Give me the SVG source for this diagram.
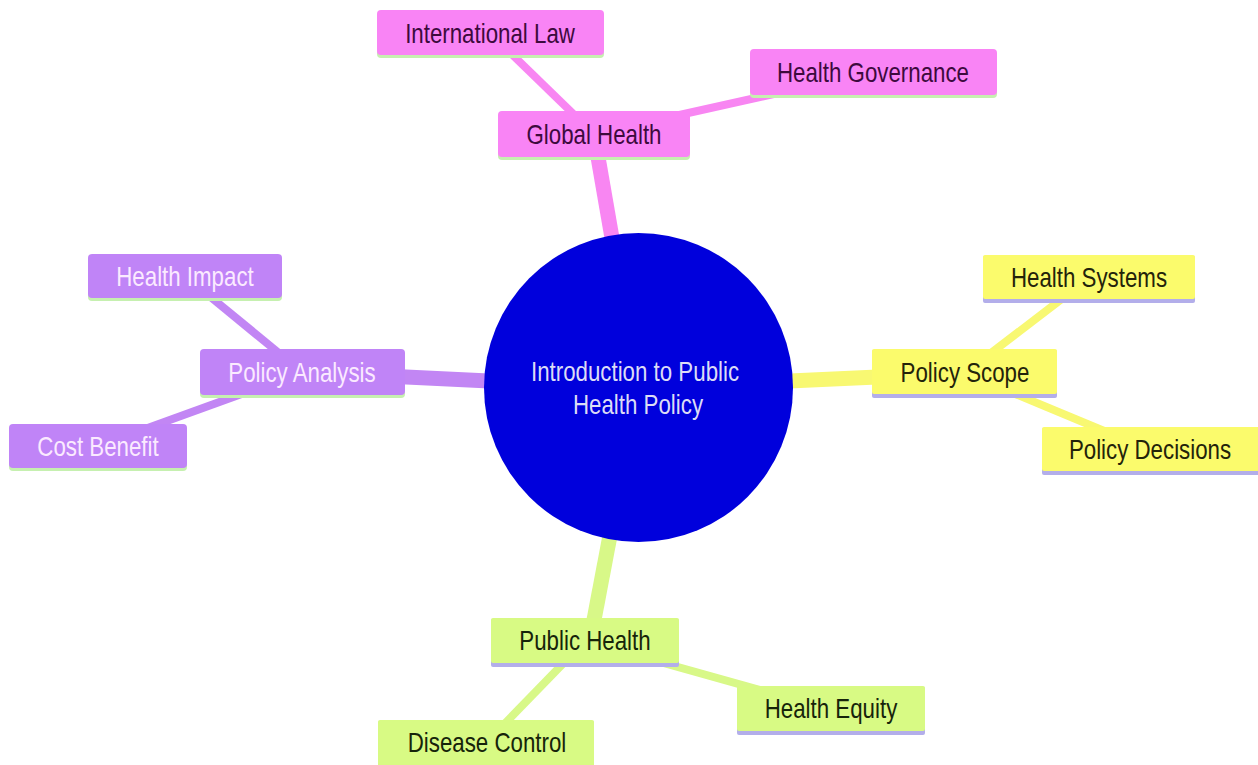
<svg xmlns="http://www.w3.org/2000/svg" width="1258" height="765" viewBox="0 0 1258 765">
<style>
text{font-family:"Liberation Sans",Arial,sans-serif;font-size:22.3px;text-anchor:middle}
.pink rect.b{fill:#f984f5}
.pink text{fill:#3d0a3d}
.purple rect.b{fill:#c084f7}
.purple text{fill:#fbeaff}
.yellow rect.b{fill:#fbfb6c}
.yellow text{fill:#23230a}
.green rect.b{fill:#d8fa84}
.green text{fill:#16240a}
.lg{fill:#c6f0b0}
.lv{fill:#b3aeea}
.e1{stroke-width:15;stroke-linecap:butt;fill:none}
.e2{stroke-width:8;stroke-linecap:butt;fill:none}
.ep{stroke:#f886f2}
.eu{stroke:#c286f4}
.ey{stroke:#f8f872}
.eg{stroke:#d8f888}
</style>
<rect width="1258" height="765" fill="#ffffff"/>
<g id="connectors">
<line class="e1 ep" x1="638" y1="388" x2="594" y2="134"/>
<line class="e2 ep" x1="594" y1="134" x2="490" y2="33"/>
<line class="e2 ep" x1="594" y1="134" x2="873" y2="72"/>
<line class="e1 eu" x1="638" y1="388" x2="302" y2="372"/>
<line class="e2 eu" x1="302" y1="372" x2="185" y2="276"/>
<line class="e2 eu" x1="302" y1="372" x2="98" y2="446"/>
<line class="e1 ey" x1="638" y1="388" x2="965" y2="373"/>
<line class="e2 ey" x1="965" y1="373" x2="1089" y2="278"/>
<line class="e2 ey" x1="965" y1="373" x2="1150" y2="450"/>
<line class="e1 eg" x1="638" y1="388" x2="590" y2="641"/>
<line class="e2 eg" x1="585" y1="641" x2="831" y2="710"/>
<line class="e2 eg" x1="585" y1="641" x2="487" y2="742"/>
</g>
<g id="root">
<circle cx="638.5" cy="387.5" r="154.5" fill="#0000dc"/>
<text transform="translate(635,381) scale(1,1.22)" fill="#dcdcf6">Introduction to Public</text>
<text transform="translate(638,414) scale(1,1.22)" fill="#dcdcf6">Health Policy</text>
</g>
<g id="global-health" class="pink">
<rect class="lg" x="498" y="114" width="192" height="46" rx="4"/>
<rect class="b" x="498" y="111" width="192" height="46" rx="4"/>
<text transform="translate(594,144) scale(1,1.22)">Global Health</text>
</g>
<g id="international-law" class="pink">
<rect class="lg" x="377" y="13" width="227" height="45" rx="4"/>
<rect class="b" x="377" y="10" width="227" height="45" rx="4"/>
<text transform="translate(490,43) scale(1,1.22)">International Law</text>
</g>
<g id="health-governance" class="pink">
<rect class="lg" x="750" y="52" width="247" height="46" rx="4"/>
<rect class="b" x="750" y="49" width="247" height="46" rx="4"/>
<text transform="translate(873,82) scale(1,1.22)">Health Governance</text>
</g>
<g id="policy-analysis" class="purple">
<rect class="lg" x="200" y="352" width="205" height="46" rx="4"/>
<rect class="b" x="200" y="349" width="205" height="46" rx="4"/>
<text transform="translate(302,382) scale(1,1.22)">Policy Analysis</text>
</g>
<g id="health-impact" class="purple">
<rect class="lg" x="88" y="257" width="194" height="44" rx="4"/>
<rect class="b" x="88" y="254" width="194" height="44" rx="4"/>
<text transform="translate(185,286) scale(1,1.22)">Health Impact</text>
</g>
<g id="cost-benefit" class="purple">
<rect class="lg" x="9" y="427" width="178" height="44" rx="4"/>
<rect class="b" x="9" y="424" width="178" height="44" rx="4"/>
<text transform="translate(98,456) scale(1,1.22)">Cost Benefit</text>
</g>
<g id="policy-scope" class="yellow">
<rect class="lv" x="872" y="350" width="185" height="48" rx="2"/>
<rect class="b" x="872" y="349" width="185" height="45" rx="2"/>
<text transform="translate(965,382) scale(1,1.22)">Policy Scope</text>
</g>
<g id="health-systems" class="yellow">
<rect class="lv" x="983" y="256" width="212" height="47" rx="2"/>
<rect class="b" x="983" y="255" width="212" height="44" rx="2"/>
<text transform="translate(1089,287) scale(1,1.22)">Health Systems</text>
</g>
<g id="policy-decisions" class="yellow">
<rect class="lv" x="1042" y="428" width="218" height="47" rx="2"/>
<rect class="b" x="1042" y="427" width="218" height="44" rx="2"/>
<text transform="translate(1150,459) scale(1,1.22)">Policy Decisions</text>
</g>
<g id="public-health" class="green">
<rect class="lv" x="491" y="619" width="188" height="48" rx="2"/>
<rect class="b" x="491" y="618" width="188" height="45" rx="2"/>
<text transform="translate(585,650) scale(1,1.22)">Public Health</text>
</g>
<g id="health-equity" class="green">
<rect class="lv" x="737" y="687" width="188" height="48" rx="2"/>
<rect class="b" x="737" y="686" width="188" height="45" rx="2"/>
<text transform="translate(831,718) scale(1,1.22)">Health Equity</text>
</g>
<g id="disease-control" class="green">
<rect class="lv" x="378" y="721" width="216" height="47" rx="2"/>
<rect class="b" x="378" y="720" width="216" height="47" rx="2"/>
<text transform="translate(487,752) scale(1,1.22)">Disease Control</text>
</g>
</svg>
